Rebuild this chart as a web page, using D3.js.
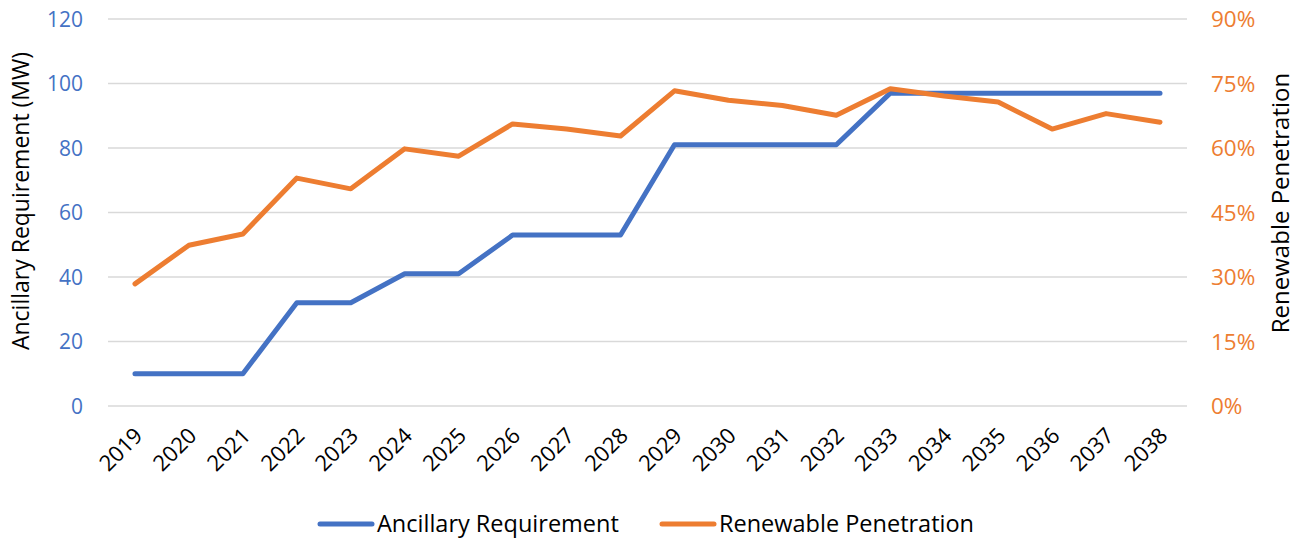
<!DOCTYPE html>
<html lang="en">
<head>
<meta charset="UTF-8">
<title>Ancillary Requirement vs Renewable Penetration</title>
<script src="https://d3js.org/d3.v7.min.js"></script>
<style>
    body { margin: 0; background: #fff; }
    text { font-family: "Open Sans", Calibri, Arial, sans-serif; }
</style>
</head>
<body>
<div id="chart"></div>
<script>
// chart data
var years = ["2019","2020","2021","2022","2023","2024","2025","2026","2027","2028",
             "2029","2030","2031","2032","2033","2034","2035","2036","2037","2038"];
var ancillary = [10, 10, 10, 32, 32, 41, 41, 53, 53, 53,
                 81, 81, 81, 81, 97, 97, 97, 97, 97, 97];
var renewable = [0.284, 0.374, 0.400, 0.530, 0.505, 0.598, 0.581, 0.656, 0.644, 0.628,
                 0.733, 0.711, 0.699, 0.676, 0.738, 0.721, 0.707, 0.644, 0.680, 0.660];
var leftTicks = [0, 20, 40, 60, 80, 100, 120];
var rightTicks = [0, 0.15, 0.30, 0.45, 0.60, 0.75, 0.90];

var W = 1304, H = 542;
var blue = "#4472C4", orange = "#ED7D31";

var svg = d3.select("#chart").append("svg")
    .attr("width", W)
    .attr("height", H);

// plot area
var plotL = 108, plotR = 1187, plotT = 19, plotB = 406;

var x = d3.scaleBand().domain(years).range([plotL, plotR]);
var yL = d3.scaleLinear().domain([0, 120]).range([plotB, plotT]);
var yR = d3.scaleLinear().domain([0, 0.9]).range([plotB, plotT]);

// gridlines
svg.append("g")
    .selectAll("line")
    .data(leftTicks)
    .enter().append("line")
    .attr("x1", plotL).attr("x2", plotR)
    .attr("y1", d => yL(d)).attr("y2", d => yL(d))
    .attr("stroke", "#d9d9d9")
    .attr("stroke-width", 1.5);

// left axis
var axL = svg.append("g")
    .attr("transform", "translate(" + (plotL - 25) + ",0)")
    .call(d3.axisLeft(yL).tickValues(leftTicks).tickSize(0).tickPadding(0));
axL.select(".domain").remove();
axL.selectAll("text")
    .attr("fill", blue)
    .style("font-size", "21px")
    .attr("dy", "0.35em");

// right axis
var axR = svg.append("g")
    .attr("transform", "translate(" + (plotR + 24) + ",0)")
    .call(d3.axisRight(yR).tickValues(rightTicks).tickSize(0).tickPadding(0)
        .tickFormat(d3.format(".0%")));
axR.select(".domain").remove();
axR.selectAll("text")
    .attr("fill", orange)
    .style("font-size", "22.5px")
    .attr("dy", "0.35em");

// x axis, rotated labels
var axX = svg.append("g")
    .attr("transform", "translate(0," + plotB + ")")
    .call(d3.axisBottom(x).tickSize(0).tickPadding(0));
axX.select(".domain").remove();
axX.selectAll("text")
    .attr("fill", "#000")
    .style("font-size", "22px")
    .attr("text-anchor", "end")
    .attr("dy", null)
    .attr("y", 0)
    .attr("transform", "translate(9,31) rotate(-45)");

// axis titles
svg.append("text")
    .attr("transform", "translate(29," + 201 + ") rotate(-90)")
    .attr("text-anchor", "middle")
    .style("font-size", "23px")
    .text("Ancillary Requirement (MW)");

svg.append("text")
    .attr("transform", "translate(1289," + 203 + ") rotate(-90)")
    .attr("text-anchor", "middle")
    .style("font-size", "24px")
    .text("Renewable Penetration");

// lines
var cx = d => x(d) + x.bandwidth() / 2;

var lineL = d3.line()
    .x((d, i) => cx(years[i]))
    .y(d => yL(d));
var lineR = d3.line()
    .x((d, i) => cx(years[i]))
    .y(d => yR(d));

svg.append("path")
    .datum(ancillary)
    .attr("d", lineL)
    .attr("fill", "none")
    .attr("stroke", blue)
    .attr("stroke-width", 5)
    .attr("stroke-linejoin", "round")
    .attr("stroke-linecap", "round");

svg.append("path")
    .datum(renewable)
    .attr("d", lineR)
    .attr("fill", "none")
    .attr("stroke", orange)
    .attr("stroke-width", 5)
    .attr("stroke-linejoin", "round")
    .attr("stroke-linecap", "round");

// legend
var legend = [
    {name: "Ancillary Requirement", color: blue, x: 320},
    {name: "Renewable Penetration", color: orange, x: 662}
];
var lg = svg.append("g").selectAll("g")
    .data(legend)
    .enter().append("g")
    .attr("transform", d => "translate(" + d.x + ",524)");
lg.append("line")
    .attr("x1", 0).attr("x2", 52)
    .attr("stroke", d => d.color)
    .attr("stroke-width", 5)
    .attr("stroke-linecap", "round");
lg.append("text")
    .attr("x", 57)
    .attr("dy", "0.35em")
    .style("font-size", "23.5px")
    .text(d => d.name);
</script>
</body>
</html>
